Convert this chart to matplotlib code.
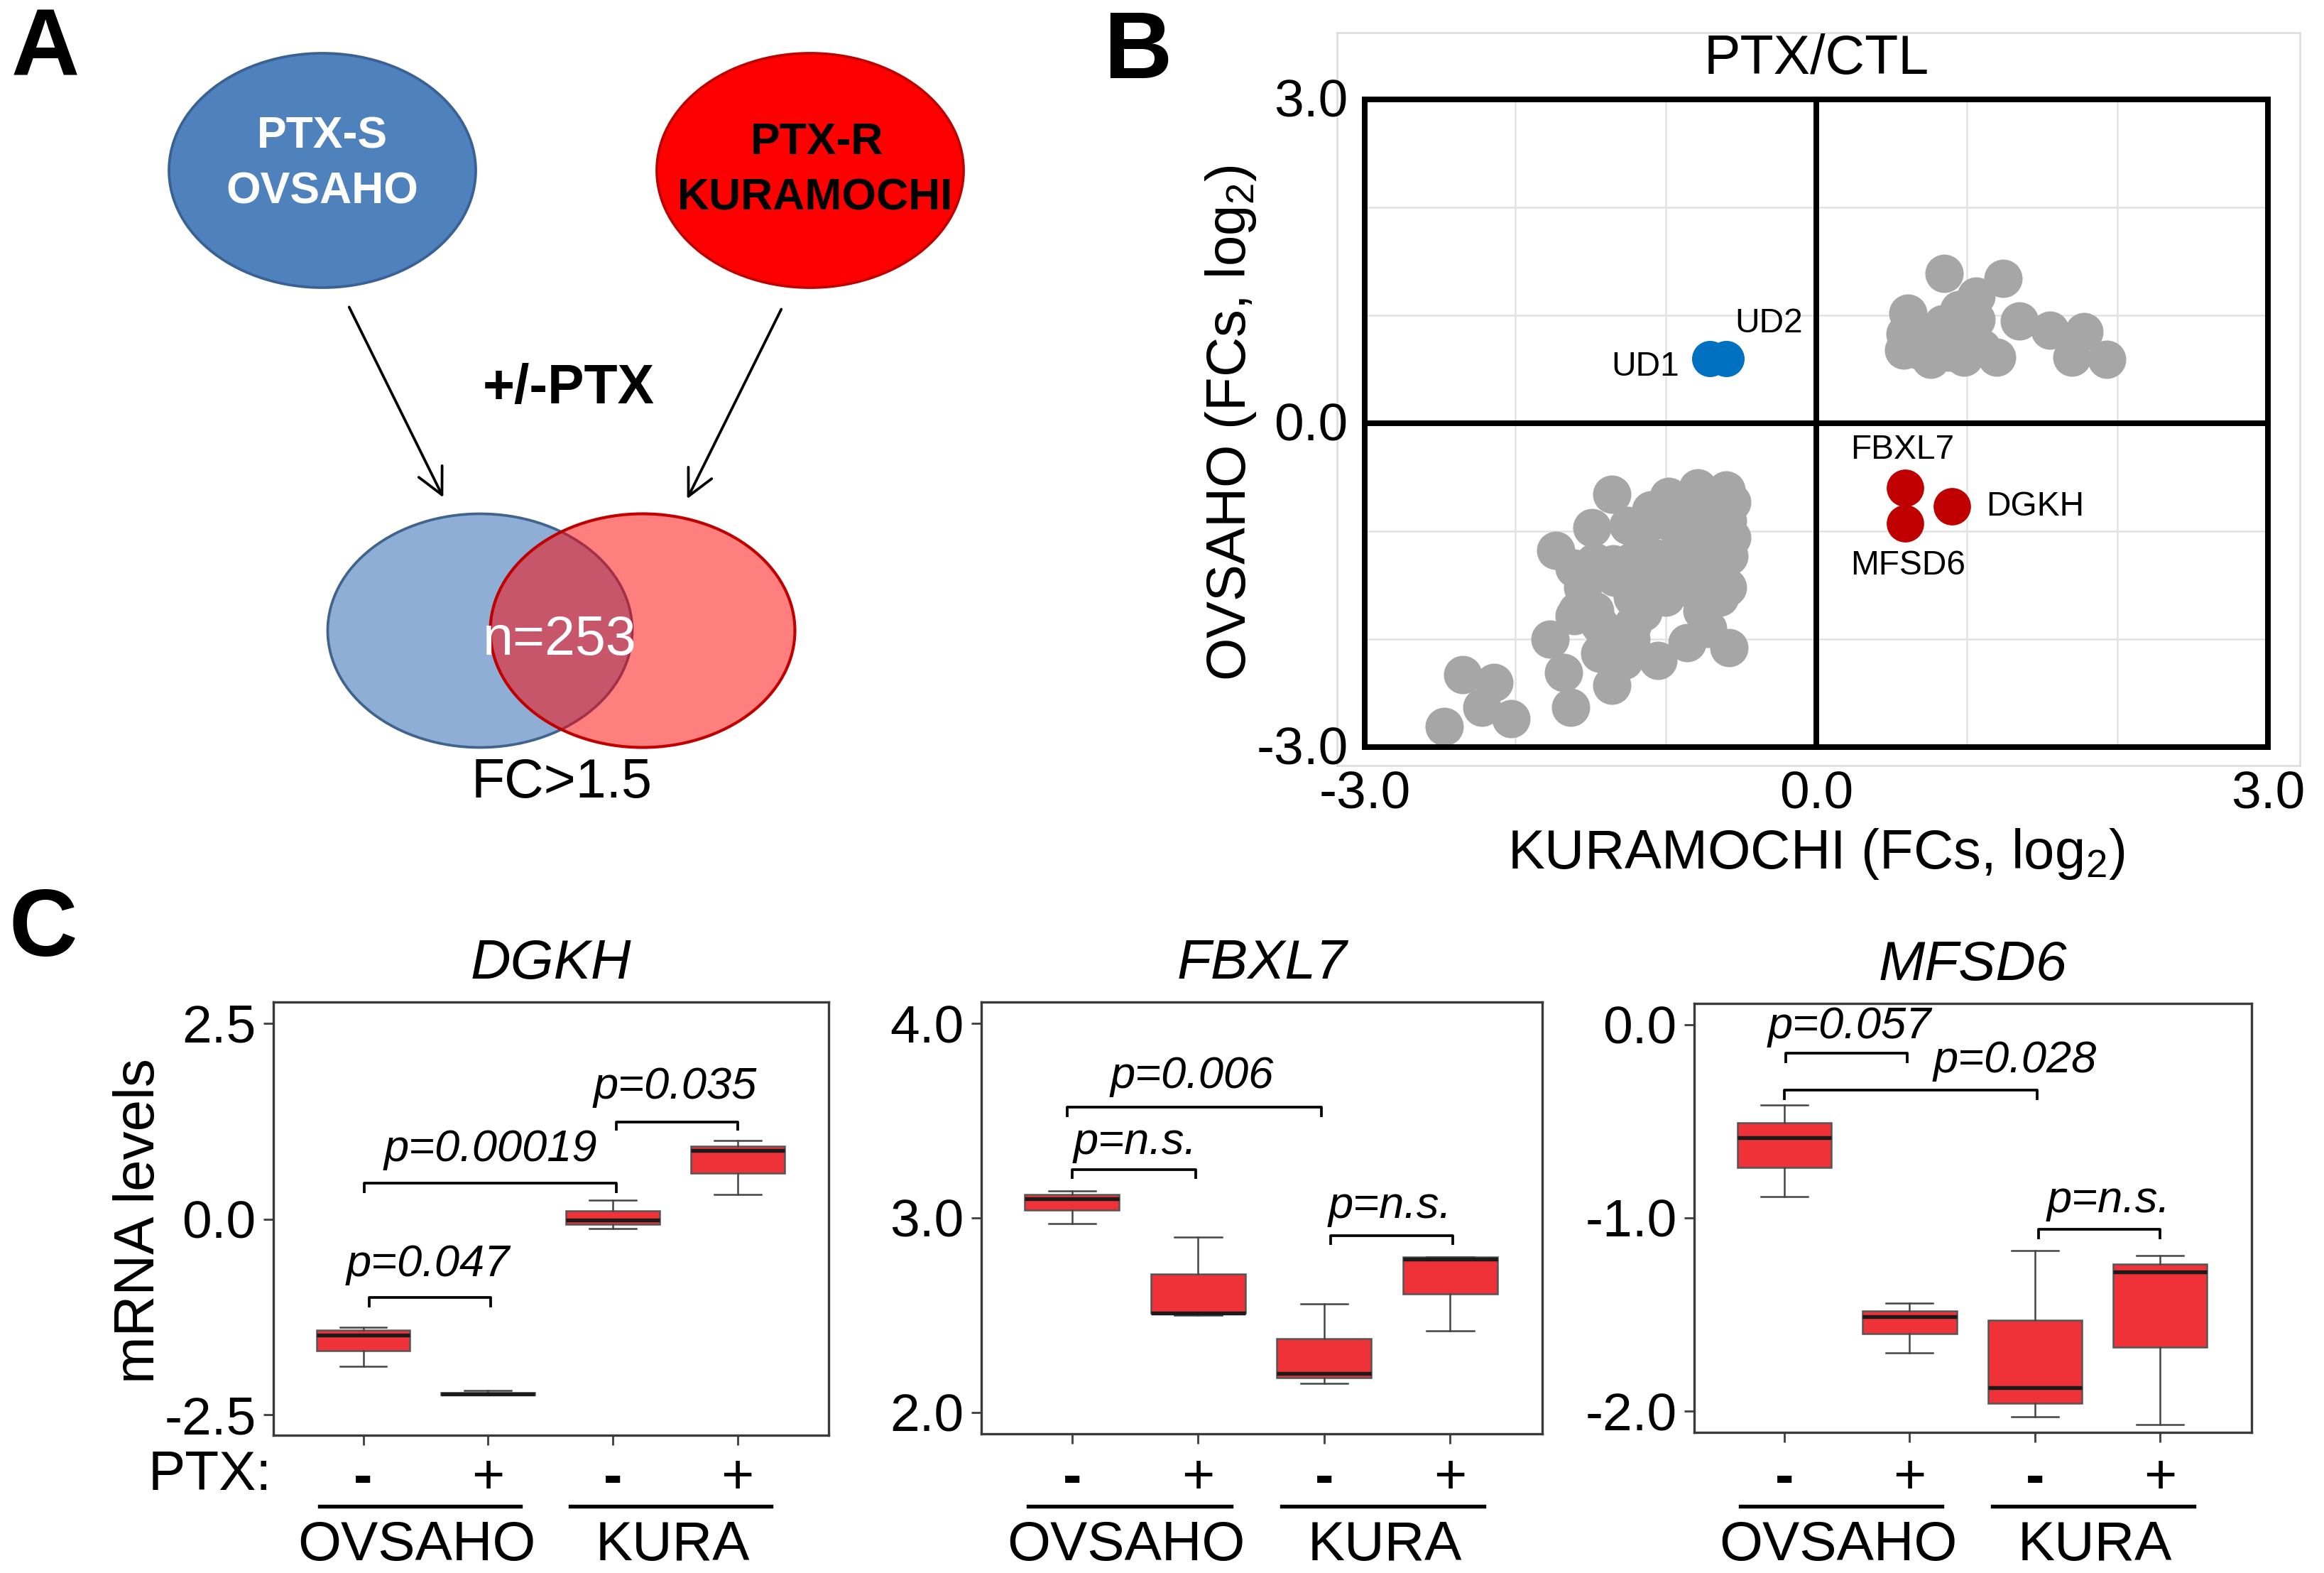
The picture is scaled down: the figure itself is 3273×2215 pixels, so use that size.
import matplotlib
matplotlib.use('Agg')
import matplotlib.pyplot as plt
from matplotlib.patches import Ellipse
import matplotlib.transforms as mtransforms

plt.rcParams['font.family'] = ['Liberation Sans', 'DejaVu Sans']
plt.rcParams['mathtext.fontset'] = 'custom'
plt.rcParams['mathtext.rm'] = 'Liberation Sans'
plt.rcParams['mathtext.it'] = 'Liberation Sans:italic'

W, H, DPI = 3273, 2215, 300

# ---------------- Panel B data (log2 fold changes) ----------------
gray_x = [0.85, 1.24, 0.61, 1.06, 1.35, 1.55, 1.78, 1.70, 1.93, 0.58, 0.76, 0.98, 1.20, 1.06,
          0.84, 0.75, 0.94, 0.59, 0.68, 0.88, 1.10, 0.95,
          -1.36, -1.49, -1.73, -1.77, -1.68, -1.63, -2.35, -2.14, -2.22, -2.03, -2.47, -0.58,
          -0.86, -1.05, -1.36, -1.44, -1.28, -1.23, -1.22, -1.44, -1.61, -1.59, -1.55, -1.47,
          -1.34, -1.23, -1.15, -1.22, -1.00, -0.86, -0.68, -0.76, -0.64, -0.59, -0.58, -0.59,
          -0.60, -0.79, -0.98, -0.79, -0.70, -0.84, -1.00, -0.92, -0.76, -0.68, -1.06, -1.17,
          -0.56, -0.56, -1.61, -1.47, -1.25, -1.10, -1.05, -0.72, -1.15, -0.90, -1.35]
gray_y = [1.39, 1.34, 1.02, 1.18, 0.95, 0.86, 0.85, 0.61, 0.59, 0.68, 0.59, 0.61, 0.61, 0.96,
          0.92, 0.76, 0.76, 0.83, 0.68, 0.66, 0.70, 1.05,
          -0.66, -0.97, -1.18, -2.00, -2.31, -2.63, -2.33, -2.40, -2.63, -2.74, -2.81, -2.08,
          -2.03, -2.20, -2.43, -2.13, -2.20, -2.00, -1.87, -1.87, -1.78, -1.74, -1.52, -1.28,
          -1.43, -1.28, -1.52, -1.61, -1.61, -1.52, -1.43, -1.74, -1.61, -1.52, -1.23, -0.90,
          -0.62, -0.60, -0.68, -0.84, -0.84, -0.95, -0.90, -1.21, -1.28, -1.12, -1.25, -1.04,
          -0.73, -1.06, -1.34, -1.74, -0.95, -0.80, -1.45, -1.90, -1.75, -1.05, -1.30]
ud_names = ['UD1', 'UD2']
ud_x = [-0.71, -0.60]
ud_y = [0.60, 0.60]
hit_names = ['FBXL7', 'DGKH', 'MFSD6']
hit_x = [0.59, 0.90, 0.59]
hit_y = [-0.60, -0.77, -0.93]
b_ticks = [-3.0, 0.0, 3.0]
b_grid = [-2, -1, 1, 2]

# ---------------- Panel C data (boxplot statistics) ----------------
genes = ['DGKH', 'FBXL7', 'MFSD6']
ptx_labels = ['-', '+', '-', '+']
groups = ['OVSAHO', 'KURA']
box_whislo = {'DGKH': [-1.88, -2.245, -0.12, 0.31],
              'FBXL7': [2.97, 2.50, 2.15, 2.42],
              'MFSD6': [-0.89, -1.70, -2.03, -2.07]}
box_q1 = {'DGKH': [-1.68, -2.24, -0.07, 0.585],
          'FBXL7': [3.04, 2.51, 2.18, 2.61],
          'MFSD6': [-0.74, -1.60, -1.96, -1.67]}
box_med = {'DGKH': [-1.48, -2.23, -0.017, 0.875],
           'FBXL7': [3.10, 2.51, 2.20, 2.79],
           'MFSD6': [-0.585, -1.51, -1.88, -1.28]}
box_q3 = {'DGKH': [-1.42, -2.215, 0.106, 0.93],
          'FBXL7': [3.12, 2.71, 2.38, 2.80],
          'MFSD6': [-0.51, -1.48, -1.53, -1.24]}
box_whishi = {'DGKH': [-1.38, -2.19, 0.24, 1.00],
              'FBXL7': [3.14, 2.90, 2.56, 2.80],
              'MFSD6': [-0.415, -1.44, -1.17, -1.195]}
yticks_c = {'DGKH': [2.5, 0.0, -2.5], 'FBXL7': [4.0, 3.0, 2.0], 'MFSD6': [0.0, -1.0, -2.0]}
ylims_c = {'DGKH': (-2.76, 2.77), 'FBXL7': (1.89, 4.11), 'MFSD6': (-2.11, 0.109)}
# brackets: x1, x2, y, leg, label, text x, text y
brackets = {
    'DGKH': [(1.05, 2.02, -1.00, 0.13, 'p=0.047', 1.52, -0.58),
             (1.01, 3.03, 0.46, 0.13, 'p=0.00019', 2.02, 0.89),
             (3.03, 4.00, 1.24, 0.11, 'p=0.035', 3.50, 1.69)],
    'FBXL7': [(0.96, 2.98, 3.57, 0.05, 'p=0.006', 1.95, 3.73),
              (1.00, 1.98, 3.25, 0.05, 'p=n.s.', 1.50, 3.39),
              (3.05, 4.02, 2.91, 0.05, 'p=n.s.', 3.52, 3.06)],
    'MFSD6': [(1.01, 1.98, -0.15, 0.05, 'p=0.057', 1.52, -0.01),
              (1.00, 3.02, -0.34, 0.05, 'p=0.028', 2.84, -0.185),
              (3.03, 4.00, -1.06, 0.05, 'p=n.s.', 3.59, -0.91)],
}

fig = plt.figure(figsize=(W / DPI, H / DPI), dpi=DPI)

# ---------------- Panel A (pixel-space overlay) ----------------
ax0 = fig.add_axes([0, 0, 1, 1])
ax0.set_xlim(0, W)
ax0.set_ylim(H, 0)
ax0.axis('off')

ax0.add_patch(Ellipse((454, 240), 432, 330, fc='#4F81BD', ec='#3A6194', lw=0.9))
ax0.add_patch(Ellipse((1141, 240), 432, 330, fc='#FF0000', ec='#C00000', lw=0.9))
ax0.text(454, 192, 'PTX-S', color='white', fontsize=15, fontweight='bold', ha='center', va='center')
ax0.text(454, 270, 'OVSAHO', color='white', fontsize=15, fontweight='bold', ha='center', va='center')
ax0.text(1151, 200, 'PTX-R', color='black', fontsize=15, fontweight='bold', ha='center', va='center')
ax0.text(1148, 279, 'KURAMOCHI', color='black', fontsize=15, fontweight='bold', ha='center', va='center')
ax0.annotate('', xy=(628, 708), xytext=(488, 425),
             arrowprops=dict(arrowstyle='->', lw=0.9, color='black', mutation_scale=22))
ax0.annotate('', xy=(964, 710), xytext=(1104, 428),
             arrowprops=dict(arrowstyle='->', lw=0.9, color='black', mutation_scale=22))
ax0.text(801, 547, '+/-PTX', fontsize=18.5, fontweight='bold', ha='center', va='center')
ax0.add_patch(Ellipse((676, 888), 429, 329, fc='#8FAED6', ec='#41648F', lw=0.9))
ax0.add_patch(Ellipse((905, 888), 429, 329, fc=(1, 0, 0, 0.5), ec='#C00000', lw=1.0))
ax0.text(788, 901, 'n=253', color='white', fontsize=18.5, ha='center', va='center')
ax0.text(791, 1102, 'FC>1.5', color='black', fontsize=18.5, ha='center', va='center')

ax0.text(64, 72, 'A', fontsize=32, fontweight='bold', ha='center', va='center')
ax0.text(1602, 75, 'B', fontsize=32, fontweight='bold', ha='center', va='center')
ax0.text(61, 1311, 'C', fontsize=32, fontweight='bold', ha='center', va='center')

# ---------------- Panel B ----------------
axB = fig.add_axes([1883 / W, (H - 1078) / H, 1356 / W, 1032 / H])
axB.set_xlim(-3.184, 3.212)
axB.set_ylim(-3.171, 3.618)
for s in axB.spines.values():
    s.set_color('#DCDCDC')
    s.set_linewidth(0.6)
axB.set_xticks([])
axB.set_yticks([])
axB.vlines(b_grid, -3, 3, color='#E3E3E3', lw=0.6, zorder=1)
axB.hlines(b_grid, -3, 3, color='#E3E3E3', lw=0.6, zorder=1)
axB.scatter(gray_x, gray_y, s=168, color='#A6A6A6', linewidths=0, zorder=3)
axB.scatter(ud_x, ud_y, s=150, color='#0070C0', linewidths=0, zorder=4)
axB.scatter(hit_x, hit_y, s=160, color='#C00000', linewidths=0, zorder=4)
axB.hlines(b_ticks, -3, 3, color='black', lw=1.9, zorder=5, capstyle='projecting')
axB.vlines(b_ticks, -3, 3, color='black', lw=1.9, zorder=5, capstyle='projecting')

axB.text(-0.91, 0.52, ud_names[0], fontsize=11.5, ha='right', va='center')
axB.text(-0.54, 0.925, ud_names[1], fontsize=11.5, ha='left', va='center')
axB.text(0.57, -0.245, hit_names[0], fontsize=11.5, ha='center', va='center')
axB.text(1.13, -0.77, hit_names[1], fontsize=11.5, ha='left', va='center')
axB.text(0.61, -1.32, hit_names[2], fontsize=11.5, ha='center', va='center')

axB.text(0, 3.37, 'PTX/CTL', fontsize=18.5, ha='center', va='center')
for t in b_ticks:
    axB.text(t, -3.44, f'{t:.1f}', fontsize=18, ha='center', va='center', clip_on=False)
    axB.text(-3.11, t - 0.03, f'{t:.1f}', fontsize=18, ha='right', va='center', clip_on=False)
axB.text(0, -3.99, r'KURAMOCHI (FCs, log$_2$)', fontsize=18.7, ha='center', va='center', clip_on=False)
axB.text(-3.89, 0, r'OVSAHO (FCs, log$_2$)', fontsize=18.7, ha='center', va='center',
         rotation=90, clip_on=False)

# ---------------- Panel C ----------------
c_rects = {'DGKH': [385 / W, (H - 2021) / H, 782 / W, 610 / H],
           'FBXL7': [1382 / W, (H - 2019) / H, 790 / W, 608 / H],
           'MFSD6': [2386 / W, (H - 2017) / H, 785 / W, 604 / H]}
positions = [1, 2, 3, 4]
for g in genes:
    ax = fig.add_axes(c_rects[g])
    stats = []
    for i in range(4):
        stats.append(dict(med=box_med[g][i], q1=box_q1[g][i], q3=box_q3[g][i],
                          whislo=box_whislo[g][i], whishi=box_whishi[g][i], fliers=[]))
    ax.bxp(stats, positions=positions, widths=0.75, patch_artist=True, showfliers=False,
           capwidths=0.375, manage_ticks=False,
           boxprops=dict(facecolor='#EF3138', edgecolor='#555555', linewidth=0.6),
           medianprops=dict(color='#1a1a1a', linewidth=1.3),
           whiskerprops=dict(color='#444444', linewidth=0.6),
           capprops=dict(color='#444444', linewidth=0.6))
    ax.set_xlim(0.28, 4.73)
    ax.set_ylim(*ylims_c[g])
    ax.set_xticks(positions)
    ax.set_xticklabels([])
    ax.set_yticks(yticks_c[g])
    ax.set_yticklabels([f'{v:.1f}' for v in yticks_c[g]], fontsize=18)
    ax.tick_params(axis='both', direction='out', length=3.4, width=0.7, color='#444444', pad=2.5)
    for s in ax.spines.values():
        s.set_color('#3a3a3a')
        s.set_linewidth(0.8)
    ax.set_title(g, fontsize=18.8, style='italic', pad=8)
    for (x1, x2, y, leg, lab, tx, ty) in brackets[g]:
        ax.plot([x1, x1, x2, x2], [y - leg, y, y, y - leg], color='black', lw=0.9,
                clip_on=False, solid_capstyle='butt')
        ax.text(tx, ty, lab, fontsize=15.2, style='italic', ha='center', va='center')
    tr = mtransforms.blended_transform_factory(ax.transData, fig.transFigure)
    for p, lab in zip(positions, ptx_labels):
        fig.text(p, 1 - 2083 / H, lab, transform=tr, fontsize=19, ha='center', va='center',
                 fontweight='bold' if lab == '-' else 'normal')
    for (a, b), gx, gl in zip([(0.65, 2.26), (2.66, 4.27)], [1.43, 3.48], groups):
        fig.add_artist(plt.Line2D([a, b], [1 - 2121 / H] * 2, transform=tr, color='black', lw=1.3))
        fig.text(gx, 1 - 2176 / H, gl, transform=tr, fontsize=18.8, ha='center', va='center')

fig.text(383 / W, 1 - 2078 / H, 'PTX:', fontsize=18.8, ha='right', va='center')
fig.text(197 / W, 1 - 1719 / H, 'mRNA levels', fontsize=19.2, ha='center', va='center', rotation=90)

fig.savefig('out.png', dpi=DPI)
